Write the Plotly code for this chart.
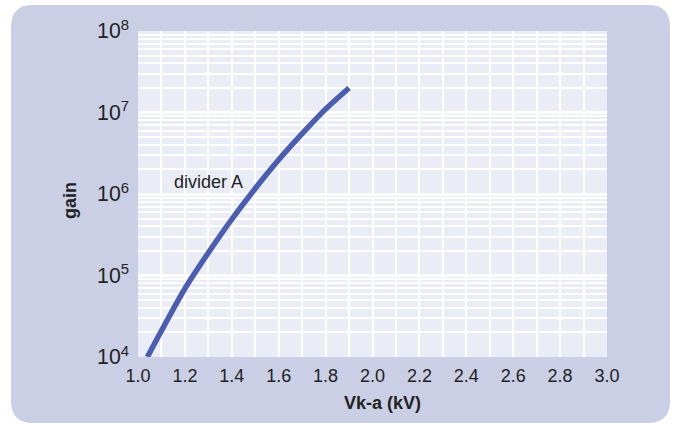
import plotly.graph_objects as go

# Data
voltage_kv = [1.04, 1.1, 1.2, 1.3, 1.4, 1.5, 1.6, 1.7, 1.8, 1.9]
gain = [1.0e4, 2.1e4, 6.9e4, 1.9e5, 4.9e5, 1.17e6, 2.63e6, 5.5e6, 1.1e7, 2.0e7]
x_ticks = [1.0, 1.2, 1.4, 1.6, 1.8, 2.0, 2.2, 2.4, 2.6, 2.8, 3.0]
series_label = "divider A"

W, H = 678, 428
L, R, T, B = 138, 607, 31, 357
pw, ph = R - L, B - T

def px(x):
    return (x - L) / pw

def py(y):
    return (B - y) / ph

def rounded_rect(x0, y0, x1, y1, r):
    def P(x, y):
        return f"{px(x):.5f},{py(y):.5f}"
    return (f"M {P(x0 + r, y0)} L {P(x1 - r, y0)} Q {P(x1, y0)} {P(x1, y0 + r)} "
            f"L {P(x1, y1 - r)} Q {P(x1, y1)} {P(x1 - r, y1)} "
            f"L {P(x0 + r, y1)} Q {P(x0, y1)} {P(x0, y1 - r)} "
            f"L {P(x0, y0 + r)} Q {P(x0, y0)} {P(x0 + r, y0)} Z")

fig = go.Figure()
fig.add_trace(go.Scatter(
    x=voltage_kv, y=gain, mode="lines",
    line=dict(color="#4a5db2", width=5.5, shape="spline", smoothing=0.8),
    showlegend=False, hoverinfo="skip",
))

fig.update_layout(
    width=W, height=H,
    margin=dict(l=L, r=W - R, t=T, b=H - B),
    paper_bgcolor="white",
    plot_bgcolor="rgba(0,0,0,0)",
    font=dict(family="Liberation Sans, Arial, sans-serif", color="#222222"),
    shapes=[
        dict(type="path", xref="paper", yref="paper", layer="below",
             path=rounded_rect(11, 5, 670, 423, 22),
             fillcolor="#cbcfe5", line=dict(width=0)),
        dict(type="rect", xref="paper", yref="paper", layer="below",
             x0=0, x1=1, y0=0, y1=1,
             fillcolor="#ebedf6", line=dict(width=0)),
    ],
    xaxis=dict(
        range=[1.0, 3.0], tickvals=x_ticks,
        ticktext=[f"{v:.1f}" for v in x_ticks],
        showgrid=True, gridcolor="white", gridwidth=2,
        minor=dict(dtick=0.1, showgrid=True, gridcolor="white", gridwidth=2),
        zeroline=False, showline=False, ticks="",
        tickfont=dict(size=18, color="#222222"),
        ticklabelstandoff=6,
    ),
    yaxis=dict(
        type="log", range=[4, 8], dtick=1,
        exponentformat="power",
        showgrid=True, gridcolor="white", gridwidth=2.5,
        minor=dict(dtick="D1", showgrid=True, gridcolor="white", gridwidth=1.5),
        zeroline=False, showline=False, ticks="",
        tickfont=dict(size=17, color="#222222"),
        ticklabelstandoff=8,
    ),
    annotations=[
        dict(x=1.3, y=6.15, xref="x", yref="y", text=series_label,
             xanchor="center", yanchor="middle",
             showarrow=False, font=dict(size=18, color="#222222")),
        dict(x=px(382), y=py(403), xref="paper", yref="paper", text="<b>Vk-a (kV)</b>",
             xanchor="center", yanchor="middle",
             showarrow=False, font=dict(size=18, color="#222222")),
        dict(x=px(70), y=py(201), xref="paper", yref="paper", text="<b>gain</b>",
             xanchor="center", yanchor="middle",
             textangle=-90, showarrow=False, font=dict(size=18, color="#222222")),
    ],
)

fig.write_html("out.html", config={"displayModeBar": False},
               post_script="document.body.style.margin='0';")
